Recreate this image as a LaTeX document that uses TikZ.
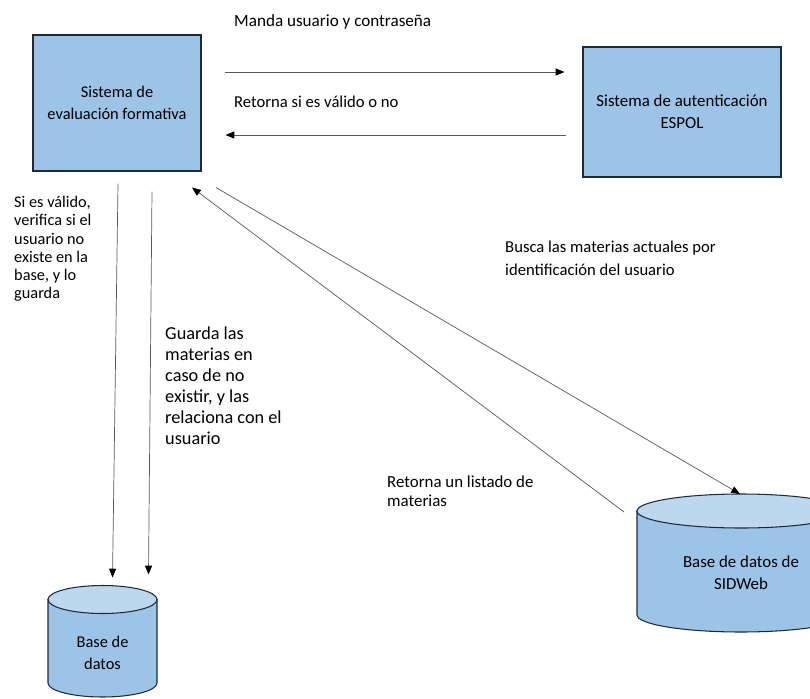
\documentclass[tikz,border=0pt]{standalone}
\usepackage{fontspec}
\setmainfont{Carlito}
\usepackage{tikz}
\usetikzlibrary{shapes,arrows,positioning,calc,arrows.meta}
\definecolor{cajazul}{HTML}{9DC3E6}
\definecolor{tapazul}{HTML}{BDD7EE}
\definecolor{borde}{HTML}{1F2A36}
\definecolor{linea}{HTML}{595959}

\begin{document}
\begin{tikzpicture}[x=0.03cm, y=-0.03cm, font=\fontsize{14}{18.5}\selectfont,
    caja/.style={draw=borde, line width=0.9pt, fill=cajazul, align=center},
    cuerpo/.style={draw=borde, line width=0.9pt, fill=cajazul},
    tapa/.style={draw=borde, line width=0.9pt, fill=tapazul},
    flecha/.style={draw=linea, line width=0.6pt, -{Triangle[length=7.5pt,width=6pt,black]}},
    nota/.style={anchor=west, align=left, inner sep=0pt}]
    \useasboundingbox (0,0) rectangle (810,698);

    \node[caja, minimum width=5.04cm, minimum height=4.08cm] (sef) at (117,103) {Sistema de\\evaluación formativa};
    \node[caja, minimum width=5.94cm, minimum height=3.9cm, font=\fontsize{14.4}{18.5}\selectfont] (auth) at (682,112) {Sistema de autenticación\\ESPOL};

    % base de datos local
    \draw[cuerpo] (48,599.5) -- (48,683) arc[start angle=180, end angle=0, x radius=54.5, y radius=14] -- (157,599.5) -- cycle;
    \draw[tapa] (102.5,599.5) ellipse[x radius=54.5, y radius=14];
    \coordinate (bdl-top) at (102.5,585.5);
    \node[align=center] (bdl) at (102.5,653) {Base de\\datos};

    % base de datos SIDWeb
    \draw[cuerpo] (637,511) -- (637,615) arc[start angle=180, end angle=0, x radius=104, y radius=17] -- (845,511) -- cycle;
    \draw[tapa] (741,511) ellipse[x radius=104, y radius=17];
    \coordinate (sid-top) at (741,494);
    \node[align=center, font=\fontsize{14.4}{18.5}\selectfont] (sid) at (741,573) {Base de datos de\\SIDWeb};

    \node[nota, font=\fontsize{14.6}{17}\selectfont] (manda) at (234,22) {Manda usuario y contraseña};
    \node[nota, font=\fontsize{14.2}{17}\selectfont] (valido) at (234,102) {Retorna si es válido o no};
    \node[nota, font=\fontsize{13.9}{15.6}\selectfont] (verifica) at (14,249) {Si es válido,\\verifica si el\\usuario no\\existe en la\\base, y lo\\guarda};
    \node[nota, font=\fontsize{15.6}{17.9}\selectfont] (guarda) at (165,386) {Guarda las\\materias en\\caso de no\\existir, y las\\relaciona con el\\usuario};
    \node[nota, font=\fontsize{14.2}{19.5}\selectfont] (busca) at (505,258) {Busca las materias actuales por\\identificación del usuario};
    \node[nota, font=\fontsize{14.4}{16}\selectfont] (listado) at (387,491) {Retorna un listado de\\materias};

    \draw[flecha] ([shift={(23,-31)}]sef.east) -- ([shift={(-18,-40)}]auth.west);
    \draw[flecha] ([shift={(-16,23)}]auth.west) -- ([shift={(24,32)}]sef.east);
    \draw[flecha] ([shift={(1,12)}]sef.south) -- ([shift={(10,-8)}]bdl-top);
    \draw[flecha] ([shift={(35,20)}]sef.south) -- ([shift={(46,-11)}]bdl-top);
    \draw[flecha] ([shift={(99,16)}]sef.south) -- ([shift={(-1,0)}]sid-top);
    \draw[flecha] ([shift={(-117,18)}]sid-top) -- ([shift={(75,16)}]sef.south);
\end{tikzpicture}
\end{document}
